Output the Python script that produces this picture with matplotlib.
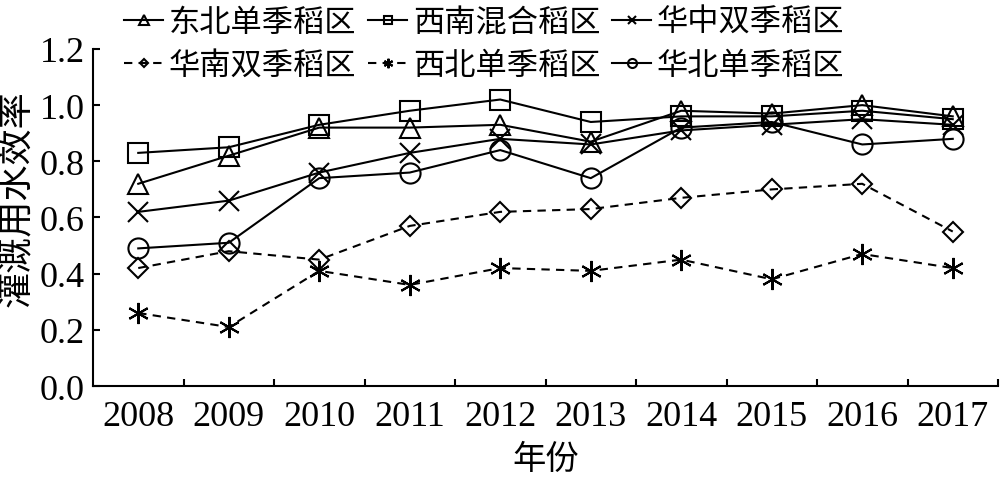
import matplotlib
matplotlib.use("Agg")
import matplotlib.pyplot as plt
from matplotlib.ticker import FixedLocator, FormatStrFormatter

years = [2008, 2009, 2010, 2011, 2012, 2013, 2014, 2015, 2016, 2017]
dongbei = [0.72, 0.82, 0.92, 0.92, 0.93, 0.87, 0.98, 0.97, 1.00, 0.96]
xinan = [0.83, 0.85, 0.93, 0.98, 1.02, 0.94, 0.96, 0.96, 0.98, 0.95]
huazhong = [0.62, 0.66, 0.76, 0.83, 0.88, 0.86, 0.91, 0.93, 0.95, 0.93]
huanan = [0.42, 0.48, 0.45, 0.57, 0.62, 0.63, 0.67, 0.70, 0.72, 0.55]
xibei = [0.26, 0.21, 0.41, 0.36, 0.42, 0.41, 0.45, 0.38, 0.47, 0.42]
huabei = [0.49, 0.51, 0.74, 0.76, 0.84, 0.74, 0.92, 0.94, 0.86, 0.88]

labels = ["东北单季稻区", "西南混合稻区", "华中双季稻区",
          "华南双季稻区", "西北单季稻区", "华北单季稻区"]
ytick_vals = [0.0, 0.2, 0.4, 0.6, 0.8, 1.0, 1.2]

cjk = ["Noto Sans CJK SC", "DejaVu Sans"]
serif = "Liberation Serif"

fig = plt.figure(figsize=(10, 4.85), dpi=100)
ax = fig.add_axes([0.093, 0.202, 0.905, 0.695])

lw = 1.5
ms = 14.5
mew = 1.5
series = [
    (dongbei, "^", "-", ms),
    (xinan, "s", "-", ms * 0.95),
    (huazhong, "x", "-", ms * 0.95),
    (huanan, "D", "--", ms * 0.68),
    (xibei, (6, 2, 0), "--", ms * 1.05),
    (huabei, "o", "-", ms),
]
handles = []
for (vals, mk, ls, size), lab in zip(series, labels):
    kw = dict(color="black", lw=lw, marker=mk, markersize=size,
              markeredgewidth=mew, markerfacecolor="none",
              markeredgecolor="black", label=lab, linestyle=ls)
    if ls == "--":
        kw["dashes"] = (4, 3)
    h, = ax.plot(years, vals, **kw)
    handles.append(h)

ax.set_xlim(2007.5, 2017.5)
ax.set_ylim(0, 1.2)
ax.spines["top"].set_visible(False)
ax.spines["right"].set_visible(False)
for s in ["left", "bottom"]:
    ax.spines[s].set_linewidth(1.5)

ax.xaxis.set_major_locator(FixedLocator([y + 0.5 for y in years]))
ax.xaxis.set_major_formatter(plt.NullFormatter())
ax.set_xticks(years, [str(y) for y in years], minor=True)
ax.tick_params(axis="x", which="major", direction="in", length=5, width=1.5)
ax.tick_params(axis="x", which="minor", length=0, pad=10, labelsize=26)
ax.set_yticks(ytick_vals)
ax.yaxis.set_major_formatter(FormatStrFormatter("%.1f"))
ax.tick_params(axis="y", direction="in", length=5, width=1.5, pad=6, labelsize=26)
for t in ax.get_xticklabels(minor=True) + ax.get_yticklabels():
    t.set_fontfamily(serif)

ax.set_ylabel("灌溉用水效率", family=cjk, fontsize=26)
ax.yaxis.set_label_coords(-0.064, 0.56)
ax.set_xlabel("年份", family=cjk, fontsize=24, labelpad=6)

order = [0, 3, 1, 4, 2, 5]
fig.legend([handles[i] for i in order], [labels[i] for i in order],
           ncol=3, loc="upper left", bbox_to_anchor=(124 / 1000, 1 - 7 / 485),
           frameon=False, borderpad=0.0, borderaxespad=0.0,
           handlelength=1.25, handletextpad=0.18, columnspacing=0.38,
           labelspacing=0.34, markerscale=0.45,
           prop={"family": cjk, "size": 22.5})

fig.savefig("out.png", dpi=100)
